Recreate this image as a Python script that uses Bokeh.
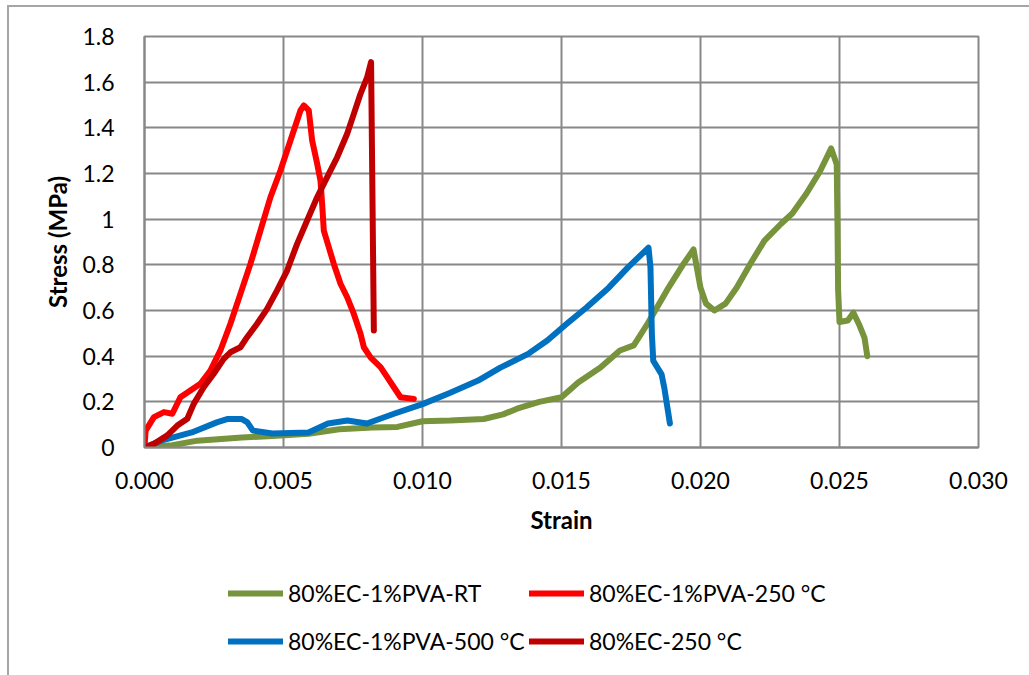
from bokeh.plotting import figure
from bokeh.layouts import column
from bokeh.models import Range1d, FixedTicker, NumeralTickFormatter, Legend, LegendItem
from bokeh.embed import file_html
from bokeh.resources import INLINE

# Stress-strain curves
strain_rt = [0, 0.0010, 0.0019, 0.0035, 0.0046, 0.0059, 0.0070, 0.0082, 0.0091, 0.0100,
             0.0110, 0.0122, 0.0129, 0.0134, 0.0142, 0.0150, 0.0156, 0.0164, 0.0171, 0.0176,
             0.0181, 0.0188, 0.0194, 0.01975, 0.0200, 0.0202, 0.0205, 0.0209, 0.0213, 0.0218,
             0.0223, 0.0229, 0.0233, 0.0238, 0.0243, 0.0247, 0.0249, 0.02493, 0.02495, 0.0250,
             0.0253, 0.0255, 0.0257, 0.0259, 0.0260]
stress_rt = [0, 0.010, 0.030, 0.044, 0.050, 0.060, 0.080, 0.088, 0.090, 0.115,
             0.118, 0.125, 0.145, 0.170, 0.200, 0.220, 0.285, 0.350, 0.425, 0.447,
             0.543, 0.690, 0.806, 0.867, 0.700, 0.630, 0.600, 0.630, 0.700, 0.806,
             0.906, 0.980, 1.025, 1.110, 1.210, 1.310, 1.240, 0.950, 0.690, 0.550,
             0.556, 0.590, 0.540, 0.480, 0.400]

strain_pva250 = [0, 0.00004, 0.00034, 0.00070, 0.00100, 0.00129, 0.00165, 0.00201, 0.00237,
                 0.00273, 0.00309, 0.00345, 0.00381, 0.00417, 0.00453, 0.00489, 0.00513,
                 0.00537, 0.00561, 0.00573, 0.00591, 0.00603, 0.00621, 0.00633, 0.00639,
                 0.00645, 0.00663, 0.00681, 0.00705, 0.00729, 0.00753, 0.00777, 0.00789,
                 0.00813, 0.00849, 0.00873, 0.00897, 0.00921, 0.00969]
stress_pva250 = [0, 0.074, 0.133, 0.155, 0.148, 0.220, 0.250, 0.279, 0.337,
                 0.425, 0.542, 0.673, 0.804, 0.950, 1.096, 1.213, 1.301,
                 1.388, 1.476, 1.498, 1.476, 1.345, 1.243, 1.169, 1.067,
                 0.950, 0.877, 0.804, 0.717, 0.658, 0.585, 0.498, 0.439,
                 0.395, 0.352, 0.308, 0.264, 0.220, 0.213]

strain_500 = [0, 0.0006, 0.0017, 0.0026, 0.0030, 0.0035, 0.0037, 0.0039, 0.0046, 0.0059,
              0.0066, 0.0073, 0.0080, 0.0090, 0.0100, 0.0110, 0.0120, 0.0128, 0.0138, 0.0145,
              0.0152, 0.0159, 0.0167, 0.0174, 0.01813, 0.0182, 0.01825, 0.0183, 0.0186,
              0.0187, 0.0189]
stress_500 = [0, 0.030, 0.066, 0.110, 0.125, 0.125, 0.110, 0.074, 0.061, 0.066,
              0.105, 0.118, 0.105, 0.149, 0.190, 0.240, 0.293, 0.350, 0.410, 0.470,
              0.543, 0.613, 0.700, 0.790, 0.875, 0.790, 0.500, 0.380, 0.320,
              0.260, 0.105]

strain_ec250 = [0, 0.00034, 0.00082, 0.00118, 0.00154, 0.00177, 0.00213, 0.00249, 0.00285,
                0.00309, 0.00345, 0.00369, 0.00405, 0.00441, 0.00477, 0.00513, 0.00549,
                0.00585, 0.00621, 0.00657, 0.00693, 0.00729, 0.00753, 0.00777, 0.00801,
                0.00815, 0.00825]
stress_ec250 = [0, 0.016, 0.053, 0.096, 0.126, 0.191, 0.264, 0.323, 0.388,
                0.417, 0.439, 0.483, 0.542, 0.607, 0.688, 0.775, 0.892,
                0.994, 1.096, 1.184, 1.271, 1.374, 1.461, 1.549, 1.622,
                1.688, 0.512]

series_names = ["80%EC-1%PVA-RT", "80%EC-1%PVA-250 °C", "80%EC-1%PVA-500 °C", "80%EC-250 °C"]
series_colors = ["#77933C", "#FF0000", "#0070C0", "#C00000"]

x_ticks = [0.0, 0.005, 0.010, 0.015, 0.020, 0.025, 0.030]
y_ticks = [0.0, 0.2, 0.4, 0.6, 0.8, 1.0, 1.2, 1.4, 1.6, 1.8]

FONT = "Lato"
GRID = "#888888"
LINE_W = 6

# ---- main stress-strain plot ----
p = figure(width=1020, height=538, output_backend="svg", toolbar_location=None,
           x_range=Range1d(0, 0.030), y_range=Range1d(0, 1.8),
           min_border_left=135, min_border_right=51, min_border_top=29, min_border_bottom=98)

p.background_fill_color = "white"
p.border_fill_color = "white"
p.outline_line_color = GRID
p.outline_line_width = 2

for ax in (p.xaxis[0], p.yaxis[0]):
    ax.axis_line_color = GRID
    ax.axis_line_width = 2
    ax.major_tick_line_color = None
    ax.minor_tick_line_color = None
    ax.major_label_text_font = FONT
    ax.major_label_text_font_size = "23px"
    ax.major_label_text_color = "black"
    ax.axis_label_text_font = FONT
    ax.axis_label_text_font_size = "24px"
    ax.axis_label_text_font_style = "bold"
    ax.axis_label_text_color = "black"

p.xaxis.ticker = FixedTicker(ticks=x_ticks)
p.yaxis.ticker = FixedTicker(ticks=y_ticks)
p.xaxis.formatter = NumeralTickFormatter(format="0.000")
p.yaxis.formatter = NumeralTickFormatter(format="0.[0]")
p.xaxis.axis_label = "Strain"
p.yaxis.axis_label = "Stress (MPa)"
p.xaxis.major_label_standoff = 18
p.yaxis.major_label_standoff = 24
p.xaxis.axis_label_standoff = 13
p.yaxis.axis_label_standoff = 7

p.xgrid.ticker = FixedTicker(ticks=x_ticks)
p.ygrid.ticker = FixedTicker(ticks=y_ticks)
p.xgrid.grid_line_color = GRID
p.ygrid.grid_line_color = GRID
p.xgrid.grid_line_width = 2
p.ygrid.grid_line_width = 2

data = [(strain_rt, stress_rt), (strain_pva250, stress_pva250),
        (strain_500, stress_500), (strain_ec250, stress_ec250)]
for (xs, ys), color in zip(data, series_colors):
    p.line(xs, ys, line_color=color, line_width=LINE_W,
           line_join="round", line_cap="round")

# ---- legend strip under the plot: two rows of two entries ----
# its ranges sit away from the data, so only the legend swatches show
leg = figure(width=1020, height=130, output_backend="svg", toolbar_location=None,
             x_axis_type=None, y_axis_type=None, x_range=Range1d(10, 11), y_range=Range1d(10, 11),
             min_border_left=0, min_border_right=0, min_border_top=0, min_border_bottom=0)
leg.outline_line_color = None
leg.xgrid.visible = False
leg.ygrid.visible = False

swatches = [leg.line(xs, ys, line_color=c, line_width=LINE_W, line_cap="round")
            for (xs, ys), c in zip(data, series_colors)]

legend_spots = [(84, 68), (385, 68), (84, 20), (385, 20)]
for name, r, loc in zip(series_names, swatches, legend_spots):
    lg = Legend(items=[LegendItem(label=name, renderers=[r])], location=loc,
                border_line_color=None, background_fill_alpha=0,
                padding=0, margin=0, glyph_width=55, glyph_height=26,
                label_height=26, label_standoff=5,
                label_text_font=FONT, label_text_font_size="23px",
                label_text_color="black")
    leg.add_layout(lg, "center")

page = column(p, leg, spacing=0, margin=(5, 0, 0, 7),
              styles={"border-top": "2px solid #A6A6A6", "border-left": "2px solid #A6A6A6"})

open("out.html", "w").write(file_html(page, INLINE))
